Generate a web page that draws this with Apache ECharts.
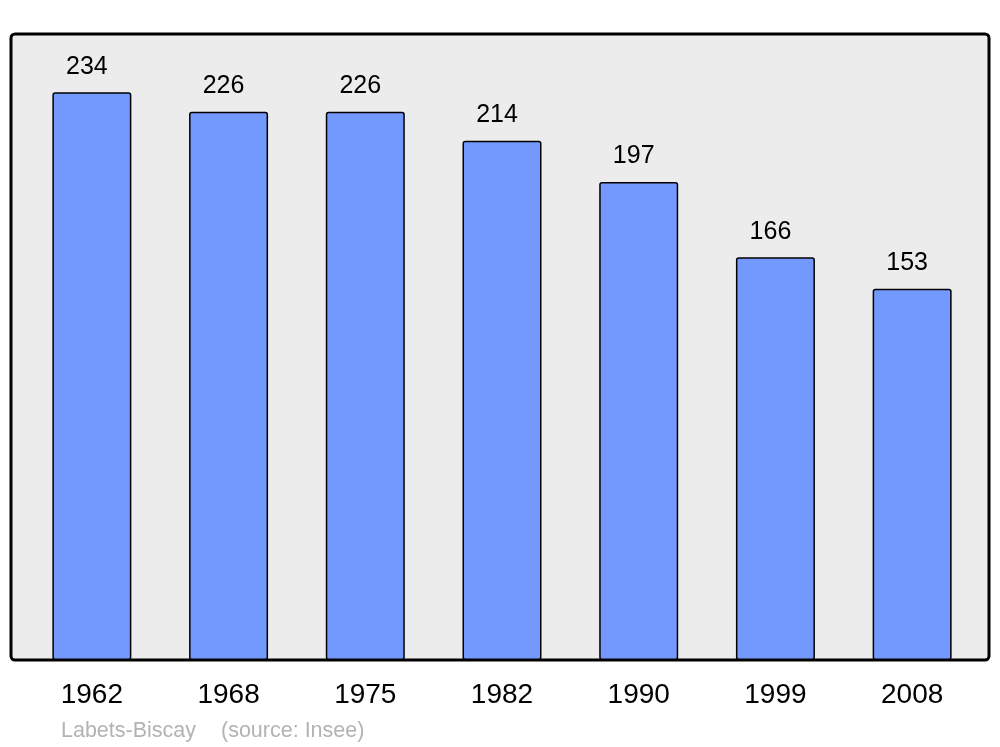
<!DOCTYPE html>
<html>
<head>
<meta charset="utf-8">
<script src="https://cdn.jsdelivr.net/npm/echarts@6/dist/echarts.min.js"></script>
<style>
  html, body { margin: 0; padding: 0; background: #fff; }
  #chart { width: 1000px; height: 747px; }
</style>
</head>
<body>
<div id="chart"></div>
<script>
  // population by census year
  var years = ['1962', '1968', '1975', '1982', '1990', '1999', '2008'];
  var population = [234, 226, 226, 214, 197, 166, 153];
  var yMax = 258;
  var place = 'Labets-Biscay';
  var source = '(source: Insee)';

  var font = 'Liberation Sans, Arial, sans-serif';
  var myChart = echarts.init(document.getElementById('chart'), null, { renderer: 'canvas' });

  var option = {
    animation: false,
    textStyle: { fontFamily: font },
    grid: {
      left: 23.5, right: 19.5, top: 34, bottom: 87
    },
    xAxis: {
      type: 'category',
      data: years,
      axisLine: { show: false },
      axisTick: { show: false },
      axisLabel: { color: '#000', fontSize: 28, margin: 21, fontFamily: font }
    },
    yAxis: {
      type: 'value',
      min: 0,
      max: yMax,
      show: false
    },
    series: [
      {
        type: 'bar',
        data: population,
        barWidth: 79,
        itemStyle: {
          color: '#7399ff',
          borderColor: '#000',
          borderWidth: 1.5,
          borderRadius: 2
        },
        label: {
          show: true,
          position: 'top',
          distance: 13,
          offset: [-5, 0],
          color: '#000',
          fontSize: 25,
          fontFamily: font
        }
      }
    ],
    graphic: [
      {
        // plot frame
        type: 'rect',
        z: -10,
        shape: { x: 11, y: 34, width: 978, height: 626, r: 4 },
        style: { fill: '#ececec', stroke: '#000', lineWidth: 3 }
      },
      {
        type: 'text',
        left: 61,
        top: 720,
        style: { text: place, fill: '#b3b3b3', fontSize: 21.5, fontFamily: font }
      },
      {
        type: 'text',
        left: 221,
        top: 720,
        style: { text: source, fill: '#b3b3b3', fontSize: 21.5, fontFamily: font }
      }
    ]
  };

  myChart.setOption(option);
</script>
</body>
</html>
